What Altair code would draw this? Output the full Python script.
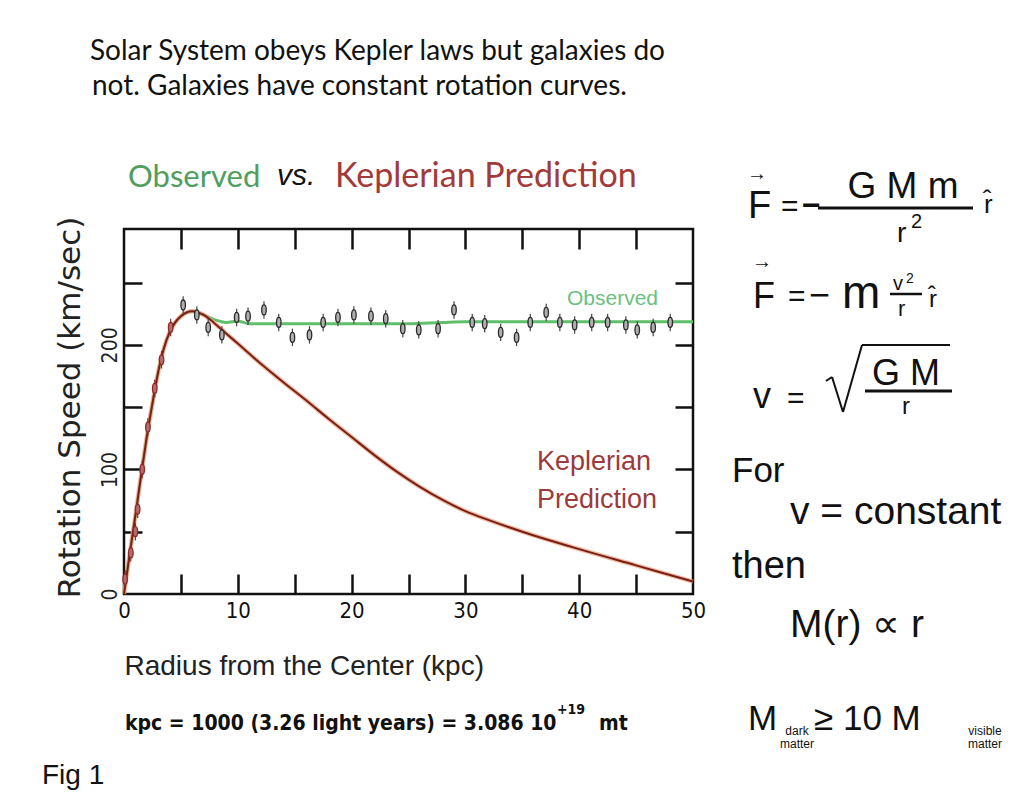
import altair as alt
import pandas as pd

# ---------------- data ----------------
kep_r = [0, 0.5, 1, 1.5, 2, 2.5, 3, 3.5, 4, 4.5, 5, 6, 7, 8, 9, 10, 12, 14, 16, 18,
         20, 22, 24, 26, 28, 30, 32, 35, 40, 45, 50]
kep_v = [0, 32, 63, 95, 126, 153, 178, 197, 210, 218, 223, 227, 224, 217, 209, 201, 185, 170, 155.5, 140.5,
         126, 111.5, 98, 86, 75.5, 66.5, 59.5, 50, 36, 23, 10]

obs_r = [0, 0.5, 1, 1.5, 2, 2.5, 3, 3.5, 4, 4.5, 5, 6, 7, 8, 9, 10, 11, 15, 20, 25, 28, 30, 35, 40, 45, 50]
obs_v = [0, 32, 63, 95, 126, 153, 178, 197, 210, 218, 223, 227, 224, 220, 218, 219, 217, 217, 217, 217,
         218, 218.5, 218.5, 218.5, 218.5, 218.5]

pt_r = [0.1, 0.6, 1.0, 1.2, 1.6, 2.1, 2.7, 3.3, 4.1, 5.2, 6.4, 7.4, 8.6, 9.9, 10.9, 12.3, 13.6, 14.8,
        16.3, 17.5, 18.8, 20.2, 21.7, 23.0, 24.5, 25.9, 27.6, 29.0, 30.6, 31.7, 33.1, 34.5, 35.7,
        37.1, 38.3, 39.6, 41.1, 42.5, 44.1, 45.1, 46.5, 48.0]
pt_v = [12, 33, 50, 68, 100, 134, 165, 188, 214, 232, 224, 214, 208, 222, 223, 228, 218, 206,
        208, 218, 222, 224, 223, 221, 213, 212, 213, 228, 218, 217, 210, 206, 218,
        226, 218, 216, 218, 218, 216, 212, 214, 218]
pt_err = 7

x_label_values = [0, 10, 20, 30, 40, 50]
x_tick_values = [5, 10, 15, 20, 25, 30, 35, 40, 45]
y_label_values = [0, 100, 200]
y_tick_values = [50, 100, 150, 200, 250]

# ---------------- layout ----------------
W, H = 569, 365          # plot area
OX, OY = 124, 229        # page position of plot origin
COND = "DejaVu Sans Condensed, sans-serif"
HUM = "Lato, sans-serif"
SANS = "Liberation Sans, Arial, sans-serif"
GREEN = "#5fbf6a"
RED = "#a33a3a"

kep = pd.DataFrame({"r": kep_r, "v": kep_v})
obs = pd.DataFrame({"r": obs_r, "v": obs_v})
pts = pd.DataFrame({"r": pt_r, "v": pt_v})
pts["lo"] = pts["v"] - pt_err
pts["hi"] = pts["v"] + pt_err
pts["kind"] = ["rise" if r < 4.5 else "flat" for r in pt_r]
one = pd.DataFrame({"a": [0]})

xs = alt.Scale(domain=[0, 50], nice=False, zero=False)
ys = alt.Scale(domain=[0, 293], nice=False)

x_main_axis = alt.Axis(orient="bottom", values=x_label_values, ticks=False, domain=False, grid=False,
                       labelFont=COND, labelFontSize=22, labelPadding=6, labelColor="#111",
                       labelFlush=False, title="Radius from the Center (kpc)", titleFont=SANS,
                       titleFontSize=28, titleFontWeight="normal", titleColor="#222",
                       titleAlign="left", titleAnchor="start", titleX=0, titleY=72,
                       titleBaseline="middle")
y_main_axis = alt.Axis(orient="left", values=y_label_values, ticks=False, domain=False, grid=False,
                       labelFont=COND, labelFontSize=21, labelAngle=270, labelAlign="center",
                       labelBaseline="bottom", labelPadding=4, labelColor="#222", labelFlush=False,
                       title="Rotation Speed (km/sec)", titleFont="DejaVu Sans", titleFontSize=31,
                       titleFontWeight="normal", titleColor="#222", titleAngle=270,
                       titleAlign="center", titleBaseline="middle", titleX=-54, titleY=178)


def tick_axis(orient, values, size):
    return alt.Axis(orient=orient, values=values, offset=-size, tickSize=size, tickWidth=2.5,
                    tickColor="#111", labels=False, domain=False, grid=False, title=None)


obs_line = alt.Chart(obs).mark_line(color=GREEN, strokeWidth=3, interpolate="monotone").encode(
    x=alt.X("r:Q", scale=xs, axis=x_main_axis),
    y=alt.Y("v:Q", scale=ys, axis=y_main_axis))
kep_halo = alt.Chart(kep).mark_line(color="#e8a080", strokeWidth=4.5, opacity=0.7,
                                    interpolate="monotone").encode(
    x=alt.X("r:Q", scale=xs, axis=tick_axis("bottom", x_tick_values, 20)),
    y=alt.Y("v:Q", scale=ys, axis=tick_axis("left", y_tick_values, 18)))
kep_line = alt.Chart(kep).mark_line(color="#7a1f14", strokeWidth=2, interpolate="monotone").encode(
    x=alt.X("r:Q", scale=xs, axis=tick_axis("top", x_tick_values, 20)),
    y=alt.Y("v:Q", scale=ys, axis=tick_axis("right", y_tick_values, 18)))

err = alt.Chart(pts).mark_rule(strokeWidth=1.2).encode(
    x=alt.X("r:Q", scale=xs, axis=None),
    y=alt.Y("lo:Q", scale=ys, axis=None), y2="hi:Q",
    color=alt.Color("kind:N", scale=alt.Scale(domain=["rise", "flat"], range=["#8a2a2a", "#444444"]),
                    legend=None))
ELLIPSE = "M0,-1C0.6,-1 0.6,1 0,1C-0.6,1 -0.6,-1 0,-1Z"
glyph = alt.Chart(pts).mark_point(shape=ELLIPSE, size=100, strokeWidth=1.3, opacity=1).encode(
    x=alt.X("r:Q", scale=xs, axis=None),
    y=alt.Y("v:Q", scale=ys, axis=None),
    fill=alt.Fill("kind:N", scale=alt.Scale(domain=["rise", "flat"], range=["#b86a6a", "#b0b0b0"]),
                  legend=None),
    stroke=alt.Stroke("kind:N", scale=alt.Scale(domain=["rise", "flat"], range=["#8a2a2a", "#2a2a2a"]),
                      legend=None))


def txt(s, px, py, size, font=SANS, color="#111", align="left", baseline="alphabetic",
        weight="normal", style="normal"):
    return alt.Chart(one).mark_text(text=s, align=align, baseline=baseline, fontSize=size, font=font,
                                    color=color, fontWeight=weight, fontStyle=style).encode(
        x=alt.value(px - OX), y=alt.value(py - OY))


def seg(x1, y1, x2, y2, w, color="#111"):
    return alt.Chart(one).mark_rule(color=color, strokeWidth=w).encode(
        x=alt.value(x1 - OX), y=alt.value(y1 - OY), x2=alt.value(x2 - OX), y2=alt.value(y2 - OY))


texts = [
    # header
    txt("Solar System obeys Kepler laws but galaxies do", 90, 60, 28, font=HUM),
    txt("not. Galaxies have constant rotation curves.", 92, 95, 28, font=HUM),
    txt("Observed", 128, 187, 31, font=HUM, color="#4f9e5e"),
    txt("vs.", 277, 185, 30, style="italic"),
    txt("Keplerian  Prediction", 335, 187, 34, font=HUM, color=RED),
    # in-plot labels
    txt("Observed", 567, 305, 21, color="#6cbf82"),
    txt("Keplerian", 537, 470, 27, color="#9b3b3b"),
    txt("Prediction", 537, 508, 27, color="#9b3b3b"),
    # bottom
    txt("kpc = 1000 (3.26 light years) = 3.086 10", 125, 730, 21, font=COND, weight="bold"),
    txt("+19", 557, 714, 14, font=COND, weight="bold"),
    txt("mt", 599, 730, 21, font=COND, weight="bold"),
    txt("Fig 1", 42, 784, 28),
    # equation 1
    txt("\u2192", 747, 180, 20),
    txt("F", 748, 218, 38),
    txt("=", 781, 216, 30),
    txt("\u2212", 802, 216, 32, weight="bold"),
    txt("G M m", 903, 198, 37, align="center"),
    seg(818, 208, 973, 208, 3),
    txt("r", 897, 242, 28),
    txt("2", 911, 228, 20),
    txt("r\u0302", 984, 213, 26),
    # equation 2
    txt("\u2192", 752, 268, 20),
    txt("F", 753, 308, 36),
    txt("=", 788, 306, 30),
    txt("\u2212", 809, 307, 36),
    txt("m", 842, 308, 46),
    txt("v", 893, 290, 20),
    txt("2", 906, 283, 14),
    seg(890, 294, 922, 294, 2.5),
    txt("r", 898, 316, 22),
    txt("r\u0302", 929, 307, 24),
    # equation 3
    txt("v", 753, 408, 36),
    txt("=", 787, 408, 30),
    seg(826, 381, 832, 377, 2),
    seg(832, 377, 843, 412, 2),
    seg(843, 412, 862, 345, 2),
    seg(862, 345, 950, 345, 2),
    txt("G M", 906, 385, 36, align="center"),
    seg(865, 391, 952, 391, 3),
    txt("r", 906, 414, 24, align="center"),
    # text block
    txt("For", 732, 482, 35),
    txt("v = constant", 790, 524, 39),
    txt("then", 732, 578, 38),
    txt("M(r) \u221d r", 790, 637, 39),
    txt("M", 748, 730, 35),
    txt("dark", 797, 735, 12, align="center"),
    txt("matter", 797, 748, 12, align="center"),
    txt("\u2265 10 M", 814, 730, 35),
    txt("visible", 985, 735, 12, align="center"),
    txt("matter", 985, 748, 12, align="center"),
]

chart = alt.layer(obs_line, kep_halo, kep_line, err, glyph, *texts).resolve_axis(
    x="independent", y="independent"
).properties(
    width=W, height=H,
    autosize=alt.AutoSizeParams(type="none"),
    padding={"left": OX - 8, "top": OY - 8, "right": 1013 - OX - W, "bottom": 784 - OY - H + 8},
).configure_view(stroke="#111", strokeWidth=2.5)

chart.save("out.html", embed_options={"renderer": "svg", "actions": False})
